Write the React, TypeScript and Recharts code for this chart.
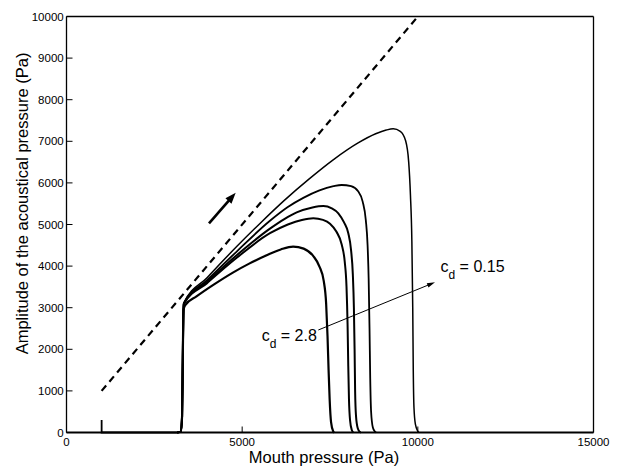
import {
  LineChart,
  Line,
  XAxis,
  YAxis,
  ReferenceLine,
  ReferenceDot,
  Label,
} from "recharts";

// mouth pressure (Pa) -> amplitude of the acoustical pressure (Pa)
type Pair = [number, number];

const pressureTicks = [0, 5000, 10000, 15000];
const amplitudeTicks = [0, 1000, 2000, 3000, 4000, 5000, 6000, 7000, 8000, 9000, 10000];

// upper bound: amplitude = mouth pressure
const upperBound: Pair[] = [
  [1000, 1000],
  [10000, 10000],
];

// below threshold, before the oscillation starts
const belowThreshold: Pair[] = [
  [1000, 300],
  [1000, 0],
  [3150, 0],
];

// c_d = 0.15
const branch1: Pair[] = [
  [3150, 0], [3250, 20], [3290, 400], [3310, 1800], [3325, 2800], [3340, 3110],
  [4000, 3720], [4844, 4470], [5500, 5020], [6200, 5580], [6900, 6090],
  [7600, 6560], [8300, 6960], [8800, 7180], [9100, 7270], [9300, 7300],
  [9500, 7240], [9650, 7020], [9740, 6500], [9790, 5700], [9830, 4600],
  [9855, 3000], [9870, 1500], [9890, 600], [9930, 200], [10000, 30], [10030, 0],
];

const branch2: Pair[] = [
  [3150, 0], [3250, 20], [3290, 400], [3310, 1800], [3325, 2800], [3340, 3110],
  [4000, 3660], [4844, 4350], [5791, 5090], [6300, 5420], [6740, 5640],
  [7200, 5820], [7600, 5920], [7833, 5950], [8100, 5920], [8300, 5800],
  [8430, 5550], [8520, 5100], [8570, 4500], [8600, 3700], [8625, 2500],
  [8645, 1300], [8670, 500], [8720, 120], [8780, 20], [8810, 0],
];

const branch3: Pair[] = [
  [3150, 0], [3250, 20], [3290, 400], [3310, 1800], [3325, 2800], [3340, 3100],
  [4000, 3620], [4844, 4260], [5791, 4900], [6200, 5130], [6552, 5290],
  [7000, 5410], [7310, 5445], [7550, 5390], [7737, 5270], [7900, 5050],
  [8021, 4790], [8100, 4380], [8150, 3800], [8180, 3000], [8200, 2000],
  [8215, 1000], [8240, 400], [8290, 100], [8350, 10], [8380, 0],
];

const branch4: Pair[] = [
  [3150, 0], [3250, 20], [3290, 400], [3310, 1800], [3325, 2800], [3340, 3090],
  [4000, 3590], [4844, 4200], [5791, 4790], [6300, 5000], [6700, 5110],
  [7025, 5150], [7300, 5110], [7500, 5020], [7680, 4830], [7833, 4520],
  [7920, 4100], [7970, 3500], [8000, 2600], [8020, 1600], [8040, 800],
  [8070, 300], [8120, 60], [8165, 0],
];

// c_d = 2.8
const branch5: Pair[] = [
  [3150, 0], [3250, 20], [3290, 400], [3310, 1800], [3330, 2950], [3380, 3060],
  [3700, 3270], [4200, 3560], [4748, 3850], [5200, 4060], [5698, 4260],
  [6100, 4400], [6450, 4470], [6750, 4420], [7025, 4240], [7200, 3990],
  [7320, 3650], [7390, 3100], [7430, 2300], [7460, 1500], [7490, 800],
  [7530, 250], [7590, 30], [7620, 0],
];

const toRows = (pairs: Pair[]) => pairs.map(([p, a]) => ({ p, a }));

const FONT = '"Liberation Sans", Arial, Helvetica, sans-serif';

type ArrowProps = {
  x1?: number;
  y1?: number;
  x2?: number;
  y2?: number;
  width: number;
  head: number;
  headWidth: number;
};

const Arrow = ({ x1 = 0, y1 = 0, x2 = 0, y2 = 0, width, head, headWidth }: ArrowProps) => {
  const ang = Math.atan2(y2 - y1, x2 - x1);
  const bx = x2 - head * Math.cos(ang);
  const by = y2 - head * Math.sin(ang);
  const nx = (-Math.sin(ang) * headWidth) / 2;
  const ny = (Math.cos(ang) * headWidth) / 2;
  return (
    <g>
      <line x1={x1} y1={y1} x2={bx + 0.5 * head * Math.cos(ang)} y2={by + 0.5 * head * Math.sin(ang)} stroke="#000" strokeWidth={width} />
      <polygon points={`${x2},${y2} ${bx + nx},${by + ny} ${bx - nx},${by - ny}`} fill="#000" />
    </g>
  );
};

const CdText = ({ cx = 0, cy = 0, value }: { cx?: number; cy?: number; value: string }) => (
  <text x={cx} y={cy} fontSize={16} fill="#000" fontFamily={FONT}>
    <tspan>c</tspan>
    <tspan dy={7} fontSize={12}>d</tspan>
    <tspan dy={-7}>{` = ${value}`}</tspan>
  </text>
);

const App = () => {
  return (
    <div style={{ position: "absolute", left: 0, top: 0, fontFamily: FONT }}>
      <LineChart
        width={628}
        height={468}
        margin={{ top: 15.5, right: 33.5, bottom: 5.5, left: 6.5 }}
      >
        <XAxis
          dataKey="p"
          type="number"
          domain={[0, 15000]}
          ticks={pressureTicks}
          interval={0}
          height={30}
          tickSize={-6}
          tickMargin={11.6}
          axisLine={{ stroke: "#000", strokeWidth: 2 }}
          tickLine={{ stroke: "#000" }}
          tick={{ fill: "#000", fontSize: 11.5 }}
        >
          <Label
            value="Mouth pressure (Pa)"
            position="insideBottom"
            offset={0}
            dx={-6}
            fontSize={16.5}
            fill="#000"
          />
        </XAxis>
        <YAxis
          dataKey="a"
          type="number"
          domain={[0, 10000]}
          ticks={amplitudeTicks}
          interval={0}
          width={60}
          tickSize={-6}
          tickMargin={8.8}
          axisLine={{ stroke: "#000", strokeWidth: 1.3 }}
          tickLine={{ stroke: "#000" }}
          tick={{ fill: "#000", fontSize: 11.5 }}
        >
          <Label
            value="Amplitude of the acoustical pressure (Pa)"
            position="insideLeft"
            angle={-90}
            offset={16}
            dy={-21}
            fontSize={16.5}
            fill="#000"
            style={{ textAnchor: "middle" }}
          />
        </YAxis>
        {/* top and right edges of the box, ticks only */}
        <XAxis
          xAxisId="top"
          orientation="top"
          dataKey="p"
          type="number"
          domain={[0, 15000]}
          ticks={pressureTicks}
          interval={0}
          height={1}
          tick={false}
          tickSize={-6}
          axisLine={{ stroke: "#000", strokeWidth: 1.3 }}
          tickLine={{ stroke: "#000" }}
        />
        <YAxis
          yAxisId="right"
          orientation="right"
          dataKey="a"
          type="number"
          domain={[0, 10000]}
          ticks={amplitudeTicks}
          interval={0}
          width={1}
          tick={false}
          tickSize={-6}
          axisLine={{ stroke: "#000", strokeWidth: 1.3 }}
          tickLine={{ stroke: "#000" }}
        />

        <Line
          xAxisId="top"
          yAxisId="right"
          data={toRows(upperBound)}
          dataKey="a"
          type="linear"
          stroke="#000"
          strokeWidth={2.2}
          strokeDasharray="7 5"
          dot={false}
          isAnimationActive={false}
        />
        <Line data={toRows(belowThreshold)} dataKey="a" type="linear" stroke="#000" strokeWidth={1.8} dot={false} isAnimationActive={false} />
        <Line data={toRows(branch1)} dataKey="a" type="monotone" stroke="#000" strokeWidth={1.5} dot={false} isAnimationActive={false} />
        <Line data={toRows(branch2)} dataKey="a" type="monotone" stroke="#000" strokeWidth={1.8} dot={false} isAnimationActive={false} />
        <Line data={toRows(branch3)} dataKey="a" type="monotone" stroke="#000" strokeWidth={2} dot={false} isAnimationActive={false} />
        <Line data={toRows(branch4)} dataKey="a" type="monotone" stroke="#000" strokeWidth={2} dot={false} isAnimationActive={false} />
        <Line data={toRows(branch5)} dataKey="a" type="monotone" stroke="#000" strokeWidth={2.2} dot={false} isAnimationActive={false} />

        {/* direction of increasing mouth pressure */}
        <ReferenceLine
          segment={[{ x: 4056, y: 5029 }, { x: 4816, y: 5764 }]}
          shape={(props: any) => <Arrow {...props} width={2.6} head={11} headWidth={8} />}
        />
        {/* from c_d = 2.8 towards c_d = 0.15 */}
        <ReferenceLine
          segment={[{ x: 7167, y: 2464 }, { x: 10489, y: 3611 }]}
          shape={(props: any) => <Arrow {...props} width={1} head={8} headWidth={4.5} />}
        />
        <ReferenceDot x={10645} y={3865} r={0} shape={(props: any) => <CdText cx={props.cx} cy={props.cy} value="0.15" />} />
        <ReferenceDot x={5556} y={2188} r={0} shape={(props: any) => <CdText cx={props.cx} cy={props.cy} value="2.8" />} />
      </LineChart>
    </div>
  );
};

export default App;
